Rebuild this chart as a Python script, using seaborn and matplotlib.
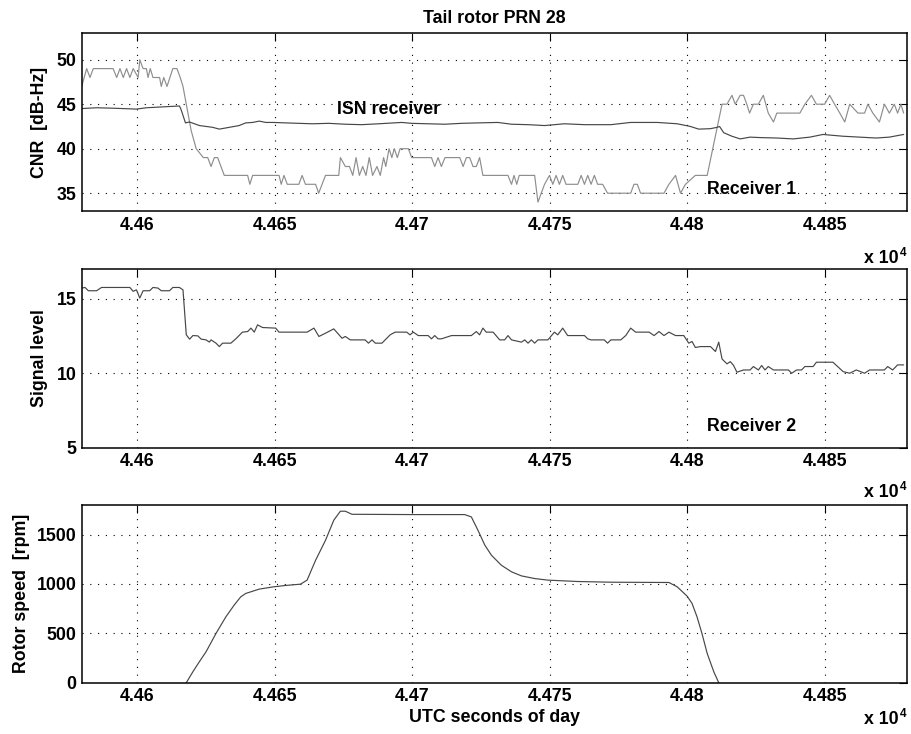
import numpy as np
import pandas as pd
import matplotlib
matplotlib.use("Agg")
import matplotlib.pyplot as plt
import seaborn as sns

# ---------------- data ----------------
# Receiver 1 CNR (dB-Hz)
rx1_t = [44579.9, 44581.7, 44582.9, 44584.1, 44591.3, 44592.6, 44593.8, 44595.0, 44596.2, 44597.4,
         44598.6, 44600.4, 44601.0, 44602.2, 44603.4, 44604.0, 44604.8, 44605.8, 44608.2, 44608.8,
         44609.7, 44610.9, 44613.0, 44614.5, 44615.7, 44616.7, 44617.9, 44619.7, 44621.5, 44624.1,
         44625.7, 44626.9, 44628.1, 44629.3, 44630.5, 44631.7, 44640.2, 44641.0, 44642.0, 44651.6,
         44652.4, 44653.4, 44654.6, 44658.8, 44660.0, 44661.2, 44664.9, 44666.0, 44668.5, 44673.3,
         44673.9, 44675.7, 44677.2, 44678.4, 44679.6, 44680.8, 44682.0, 44683.2, 44684.4, 44685.6,
         44687.2, 44688.4, 44689.6, 44690.4, 44691.6, 44692.6, 44693.5, 44694.6, 44695.6, 44698.6,
         44699.8, 44707.0, 44708.2, 44709.4, 44710.6, 44711.9, 44717.3, 44718.5, 44719.7, 44720.9,
         44722.1, 44723.3, 44724.5, 44725.7, 44734.8, 44736.1, 44737.0, 44738.0, 44738.9, 44744.5,
         44745.7, 44746.9, 44748.1, 44749.9, 44751.1, 44752.3, 44753.5, 44754.7, 44755.9, 44757.7,
         44760.2, 44761.4, 44762.6, 44763.8, 44765.0, 44766.2, 44767.4, 44769.2, 44771.0, 44779.4,
         44780.6, 44781.8, 44783.0, 44791.5, 44793.3, 44795.7, 44797.5, 44799.3, 44802.9, 44807.2,
         44812.6, 44814.4, 44816.2, 44817.4, 44819.2, 44820.4, 44821.6, 44822.6, 44824.0, 44825.8,
         44827.6, 44829.4, 44831.3, 44832.5, 44840.9, 44842.7, 44845.1, 44846.9, 44849.9, 44851.7,
         44853.5, 44855.4, 44857.2, 44859.0, 44862.0, 44864.4, 44865.6, 44867.4, 44869.8, 44871.6,
         44873.4, 44875.2, 44876.4, 44877.6, 44878.6]
rx1_v = [47, 49, 48, 49, 49, 48, 49, 48, 49, 48,
         49, 48, 50, 49, 49, 48, 49, 48, 48, 47,
         48, 47, 49, 49, 48, 47, 45, 42, 40, 39,
         39, 38, 39, 39, 38, 37, 37, 36, 37, 37,
         36, 37, 36, 36, 37, 36, 36, 35, 37, 37,
         39, 38, 38, 37, 39, 37, 38, 37, 39, 37,
         38, 37, 39, 38, 40, 39, 40, 39, 40, 40,
         39, 39, 38, 39, 38, 39, 39, 38, 39, 39,
         38, 38, 39, 37, 37, 36, 37, 36, 37, 37,
         34, 35, 36, 37, 36, 37, 36, 37, 36, 36,
         36, 37, 36, 37, 36, 37, 36, 36, 35, 35,
         36, 36, 35, 35, 36, 37, 35, 36, 37, 37,
         45, 45, 46, 45, 46, 46, 45, 44, 45, 45,
         46, 44, 43, 44, 44, 45, 46, 45, 45, 46,
         45, 44, 43, 45, 44, 44, 45, 44, 43, 45,
         44, 45, 44, 45, 44]

# ISN receiver CNR (dB-Hz)
isn_t = [44579.3, 44585.3, 44591.3, 44599.8, 44603.4, 44609.4, 44615.4, 44616.0, 44617.6, 44619.1,
         44622.7, 44627.5, 44629.9, 44633.5, 44637.1, 44639.5, 44642.0, 44644.4, 44646.8, 44649.6,
         44654.0, 44658.8, 44663.7, 44669.7, 44675.7, 44681.7, 44687.8, 44696.2, 44699.8, 44705.8,
         44711.9, 44717.9, 44723.9, 44731.1, 44736.1, 44742.1, 44748.1, 44755.3, 44762.6, 44772.2,
         44779.4, 44789.1, 44796.3, 44801.1, 44804.1, 44808.4, 44810.8, 44811.7, 44813.2, 44816.2,
         44819.2, 44822.8, 44826.4, 44832.5, 44838.5, 44844.5, 44849.3, 44852.9, 44856.6, 44862.6,
         44868.6, 44873.4, 44878.6]
isn_v = [44.5, 44.6, 44.55, 44.45, 44.6, 44.7, 44.8, 44.4, 42.9, 43.0,
         42.6, 42.4, 42.2, 42.4, 42.6, 42.9, 42.95, 43.1, 42.95, 42.95,
         42.9, 42.85, 42.8, 42.85, 42.75, 42.7, 42.8, 42.95, 42.85, 42.8,
         42.75, 42.85, 42.9, 42.95, 42.75, 42.7, 42.6, 42.8, 42.7, 42.7,
         42.95, 42.95, 42.8, 42.5, 42.2, 42.25, 42.4, 42.5, 41.8, 41.4,
         41.1, 41.3, 41.25, 41.2, 41.1, 41.3, 41.6, 41.5, 41.4, 41.3,
         41.2, 41.3, 41.6]

# Receiver 2 signal level
rx2_t = [44579.3, 44581.1, 44582.3, 44585.3, 44587.1, 44597.4, 44598.6, 44599.8, 44601.0, 44602.2,
         44604.6, 44605.8, 44607.6, 44608.8, 44611.8, 44613.0, 44615.4, 44616.7, 44617.9, 44619.1,
         44620.3, 44622.1, 44623.3, 44625.1, 44626.3, 44626.9, 44628.7, 44629.9, 44631.1, 44634.1,
         44635.9, 44638.3, 44640.2, 44641.4, 44642.6, 44643.8, 44645.6, 44650.4, 44651.6, 44661.8,
         44664.3, 44666.1, 44668.5, 44671.5, 44674.5, 44675.7, 44677.5, 44682.9, 44684.1, 44685.4,
         44686.6, 44689.0, 44692.0, 44693.8, 44698.0, 44699.2, 44700.4, 44702.2, 44705.8, 44707.0,
         44708.2, 44709.4, 44710.6, 44714.3, 44721.5, 44723.3, 44724.5, 44725.7, 44726.9, 44729.4,
         44731.8, 44733.6, 44734.8, 44736.1, 44739.7, 44740.9, 44742.1, 44743.3, 44744.5, 44745.7,
         44749.3, 44751.7, 44752.9, 44754.7, 44756.5, 44762.6, 44763.8, 44765.0, 44769.8, 44771.0,
         44772.2, 44775.8, 44777.6, 44779.4, 44781.2, 44786.1, 44787.9, 44789.7, 44791.5, 44793.3,
         44795.7, 44798.7, 44800.5, 44801.7, 44802.9, 44804.7, 44808.4, 44810.2, 44811.4, 44812.6,
         44814.4, 44815.6, 44816.8, 44818.0, 44820.4, 44822.8, 44824.0, 44825.8, 44827.0, 44828.2,
         44829.4, 44831.3, 44836.7, 44837.9, 44839.7, 44841.5, 44842.7, 44845.7, 44846.9, 44852.9,
         44856.6, 44859.0, 44861.4, 44864.4, 44866.2, 44871.6, 44872.8, 44874.6, 44876.4, 44878.6]
rx2_v = [15.7, 15.76, 15.54, 15.54, 15.76, 15.76, 15.5, 15.6, 15.05, 15.54,
         15.54, 15.76, 15.72, 15.54, 15.54, 15.76, 15.76, 15.6, 12.58, 12.29,
         12.53, 12.51, 12.29, 12.24, 12.09, 12.24, 12.02, 11.79, 12.02, 12.02,
         12.31, 12.76, 12.8, 13.03, 12.76, 13.25, 13.07, 13.03, 12.76, 12.76,
         13.03, 12.47, 12.69, 12.98, 12.35, 12.47, 12.24, 12.24, 12.02, 12.24,
         12.02, 12.02, 12.58, 12.76, 12.76, 12.58, 12.76, 12.53, 12.53, 12.31,
         12.53, 12.31, 12.31, 12.53, 12.53, 12.8, 12.58, 13.03, 12.76, 12.76,
         12.24, 12.24, 12.53, 12.24, 12.09, 12.24, 12.02, 12.24, 12.02, 12.24,
         12.24, 12.76, 12.58, 13.03, 12.53, 12.53, 12.31, 12.24, 12.24, 12.02,
         12.24, 12.24, 12.53, 13.03, 12.76, 12.76, 12.53, 12.8, 12.53, 12.76,
         12.53, 12.53, 12.02, 12.13, 11.73, 11.79, 11.79, 11.46, 12.09, 10.96,
         10.63, 10.78, 10.52, 10.07, 10.22, 10.22, 10.45, 10.22, 10.52, 10.22,
         10.45, 10.22, 10.22, 10.0, 10.22, 10.22, 10.45, 10.45, 10.74, 10.74,
         10.11, 10.0, 10.22, 10.0, 10.22, 10.22, 10.45, 10.22, 10.56, 10.56]

# Rotor speed (rpm)
rpm_t = [44617.9, 44620.3, 44622.1, 44625.1, 44628.7, 44632.3, 44635.3, 44637.7, 44639.5, 44644.4,
         44649.6, 44654.0, 44659.4, 44661.8, 44664.9, 44668.5, 44671.5, 44673.9, 44675.7, 44678.1,
         44699.8, 44719.1, 44721.5, 44723.9, 44726.4, 44728.8, 44732.4, 44736.1, 44739.7, 44744.5,
         44749.3, 44760.2, 44772.2, 44793.3, 44796.3, 44799.9, 44801.7, 44803.5, 44805.3, 44807.2,
         44809.6, 44811.4]
rpm_v = [0, 111, 189, 314, 499, 668, 786, 870, 904, 948,
         971, 985, 998, 1039, 1241, 1443, 1646, 1737, 1737, 1706,
         1703, 1703, 1679, 1544, 1393, 1291, 1190, 1123, 1082, 1055,
         1039, 1025, 1018, 1015, 971, 877, 803, 668, 499, 297,
         111, 0]

x_ticks = [44600, 44650, 44700, 44750, 44800, 44850]
x_tick_labels = ["4.46", "4.465", "4.47", "4.475", "4.48", "4.485"]
cnr_ticks = [35, 40, 45, 50]
sig_ticks = [5, 10, 15]
rpm_ticks = [0, 500, 1000, 1500]

# ---------------- style ----------------
sns.set_theme(style="white")
plt.rcParams['font.family'] = ['Liberation Sans', 'DejaVu Sans']
plt.rcParams['font.weight'] = 'bold'
plt.rcParams['text.color'] = 'black'
plt.rcParams['axes.labelcolor'] = 'black'
FS = 12.8

fig = plt.figure(figsize=(9.12, 7.34), dpi=100)
W, H = 912.0, 734.0
left, right = 82 / W, 907.5 / W
panels = [(33, 211), (269, 447.7), (505, 682.7)]
axes = []
for top, bot in panels:
    ax = fig.add_axes([left, 1 - bot / H, right - left, (bot - top) / H])
    axes.append(ax)

grid_kw = dict(color='black', linestyle=(0, (1, 6)), linewidth=0.8)

def style_axis(ax, yticks, ylim):
    ax.set_xlim(44580, 44880)
    ax.set_ylim(*ylim)
    ax.set_xticks(x_ticks)
    ax.set_xticklabels(x_tick_labels)
    ax.set_yticks(yticks)
    ax.set_yticklabels([str(v) for v in yticks])
    ax.tick_params(direction='in', length=5.5, width=0.8, top=True, right=True,
                   labelsize=FS, color='black', labelcolor='black', pad=4)
    for lab in ax.get_xticklabels() + ax.get_yticklabels():
        lab.set_fontweight('bold')
    ax.grid(True, **grid_kw)
    for s in ax.spines.values():
        s.set_visible(True)
        s.set_color('black')
        s.set_linewidth(1.1)
    ax.set_facecolor('white')

df1 = pd.DataFrame({'t': rx1_t, 'v': rx1_v})
dfi = pd.DataFrame({'t': isn_t, 'v': isn_v})
df2 = pd.DataFrame({'t': rx2_t, 'v': rx2_v})
dfr = pd.DataFrame({'t': rpm_t, 'v': rpm_v})

ax1, ax2, ax3 = axes
sns.lineplot(data=df1, x='t', y='v', ax=ax1, color='#8e8e8e', linewidth=0.85, sort=False, estimator=None)
sns.lineplot(data=dfi, x='t', y='v', ax=ax1, color='#474747', linewidth=0.85, sort=False, estimator=None)
sns.lineplot(data=df2, x='t', y='v', ax=ax2, color='#474747', linewidth=0.85, sort=False, estimator=None)
sns.lineplot(data=dfr, x='t', y='v', ax=ax3, color='#474747', linewidth=0.85, sort=False, estimator=None)

style_axis(ax1, cnr_ticks, (33, 53))
style_axis(ax2, sig_ticks, (5, 17))
style_axis(ax3, rpm_ticks, (0, 1800))

for ax in axes:
    ax.set_xlabel('')
ax1.set_ylabel('CNR  [dB-Hz]', fontsize=FS, fontweight='bold', labelpad=6, color='black')
ax2.set_ylabel('Signal level', fontsize=FS, fontweight='bold', labelpad=6, color='black')
ax3.set_ylabel('Rotor speed  [rpm]', fontsize=FS, fontweight='bold', labelpad=5, color='black')
ax3.set_xlabel('UTC seconds of day', fontsize=FS, fontweight='bold', labelpad=3, color='black')
ax1.set_title('Tail rotor PRN 28', fontsize=FS, fontweight='bold', pad=7, color='black')

ax1.text(44672.5, 44.35, 'ISN receiver', fontsize=FS, fontweight='bold', ha='left', va='center', color='black')
ax1.text(44807.0, 35.45, 'Receiver 1', fontsize=FS, fontweight='bold', ha='left', va='center', color='black')
ax2.text(44807.0, 6.42, 'Receiver 2', fontsize=FS, fontweight='bold', ha='left', va='center', color='black')

# MATLAB-style exponent labels
for yb in [263, 497, 724]:
    fig.text(899 / W, 1 - yb / H, 'x 10', fontsize=FS, fontweight='bold', ha='right', va='baseline', color='black')
    fig.text(900 / W, 1 - (yb - 7) / H, '4', fontsize=8.5, fontweight='bold', ha='left', va='baseline', color='black')

fig.savefig('out.png', dpi=100, facecolor='white')
